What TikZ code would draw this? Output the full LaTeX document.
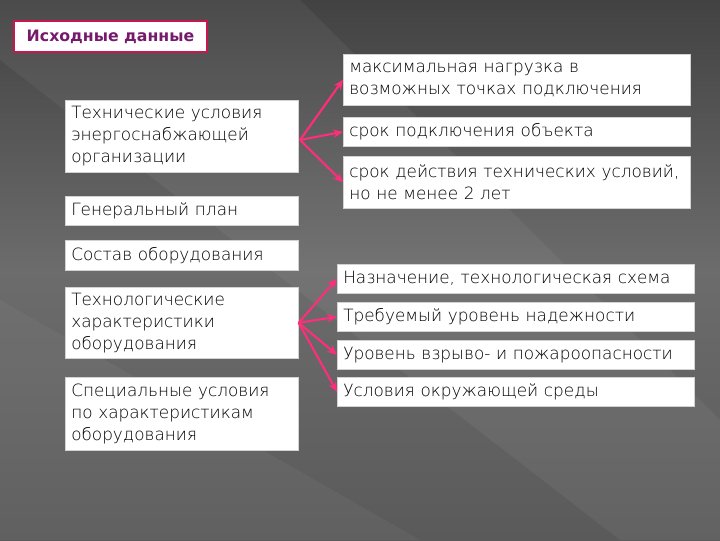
\documentclass[tikz,border=0pt]{standalone}
\usepackage{fontspec}
\setmainfont{DejaVu Sans}
\newfontfamily\thinfont{DejaVu Sans ExtraLight}
\usetikzlibrary{arrows.meta}
\definecolor{bgdark}{HTML}{424242}
\definecolor{bgmid}{HTML}{6C6C6C}
\definecolor{bglow}{HTML}{5A5A5A}
\definecolor{arrowpink}{HTML}{FF2D7A}
\definecolor{titleframe}{HTML}{C8174E}
\definecolor{titletext}{HTML}{761A6C}
\tikzset{
  box/.style={fill=white, draw=gray!35, anchor=north west, align=left,
    inner xsep=0.15cm, inner ysep=1pt, text width=#1,
    font=\thinfont\fontsize{12}{15.6}\selectfont},
  link/.style={draw=arrowpink, line width=1.5pt, -{Stealth[length=7pt,width=6pt]}}
}
\begin{document}
\begin{tikzpicture}[x=0.025cm,y=-0.025cm]
  % background
  \shade[top color=bgdark, bottom color=bglow, middle color=bgmid] (0,0) rectangle (720,540);
  \fill[white, opacity=0.05] (0,0) -- (300,0) -- (720,420) -- (720,540) -- (620,540) -- (0,60) -- cycle;
  \fill[white, opacity=0.04] (0,300) -- (420,540) -- (0,540) -- cycle;
  \useasboundingbox (0,0) rectangle (720,540);
  % title
  \node[fill=white, draw=titleframe, line width=1.4pt, anchor=north west, minimum width=4.825cm,
    minimum height=0.775cm, text=titletext, font=\bfseries\fontsize{11.2}{14}\selectfont] (title) at (13,20) {Исходные данные};
  % left column
  \node[box=5.525cm, minimum height=1.8cm] (tu) at (65,100) {Технические условия\\энергоснабжающей\\организации};
  \node[box=5.525cm, minimum height=0.725cm] (gp) at (65,196) {Генеральный план};
  \node[box=5.525cm, minimum height=0.75cm] (so) at (65,240) {Состав оборудования};
  \node[box=5.525cm, minimum height=1.775cm] (th) at (65,287) {Технологические\\характеристики\\оборудования};
  \node[box=5.525cm, minimum height=1.825cm] (sp) at (65,377) {Специальные условия\\по характеристикам\\оборудования};
  % right column, upper
  \node[box=8.375cm, minimum height=1.275cm] (r1) at (343,54) {максимальная нагрузка в\\возможных точках подключения};
  \node[box=8.375cm, minimum height=0.725cm] (r2) at (343,117) {срок подключения объекта};
  \node[box=8.375cm, minimum height=1.3cm] (r3) at (343,156) {срок действия технических условий,\\но не менее 2 лет};
  % right column, lower
  \node[box=8.625cm, minimum height=0.725cm] (q1) at (337,264) {Назначение, технологическая схема};
  \node[box=8.625cm, minimum height=0.725cm] (q2) at (337,302) {Требуемый уровень надежности};
  \node[box=8.625cm, minimum height=0.725cm] (q3) at (337,340) {Уровень взрыво- и пожароопасности};
  \node[box=8.625cm, minimum height=0.725cm] (q4) at (337,377) {Условия окружающей среды};
  % arrows
  \coordinate (fa) at (300,140);
  \foreach \t in {r1,r2,r3} \draw[link] (fa) -- (\t.west);
  \foreach \t in {q1,q2,q3,q4} \draw[link] (th.east) -- (\t.west);
\end{tikzpicture}
\end{document}
